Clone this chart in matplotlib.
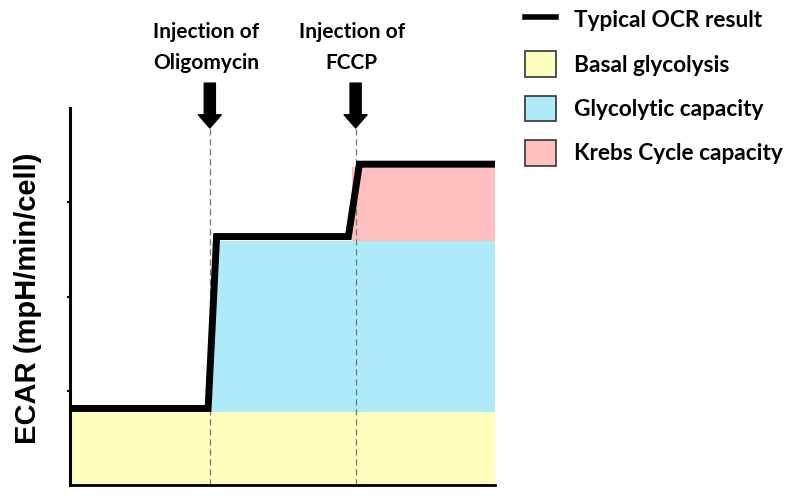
"""Glycolysis stress test schematic: ECAR trace with shaded capacity regions."""

import matplotlib

matplotlib.use("Agg")
import matplotlib.pyplot as plt
from matplotlib.lines import Line2D
from matplotlib.patches import Patch

# typical trace (arbitrary time / ECAR units)
time = [0.0, 3.25, 3.45, 6.55, 6.81, 10.0]
ecar = [2.03, 2.03, 6.59, 6.59, 8.51, 8.51]

# shaded regions: (label, x start, bottom, top, colour)
region_labels = ["Basal glycolysis", "Glycolytic capacity", "Krebs Cycle capacity"]
region_start = [0.0, 3.33, 6.63]
region_bottom = [0.0, 1.94, 6.48]
region_top = [1.94, 6.48, 8.44]
region_colors = ["#FFFFC0", "#AEEAFA", "#FFBFBF"]

injection_x = [3.29, 6.72]
injection_label_x = [3.2, 6.63]
injection_labels = ["Injection of\nOligomycin", "Injection of\nFCCP"]

X_MAX, Y_MAX = 10.0, 10.0
ARROW_TIP, ARROW_TOP = 9.47, 10.66

fig = plt.figure(figsize=(7.95, 4.97), dpi=100)
ax = fig.add_axes([70 / 795, 12 / 497, 425 / 795, 377 / 497])

for x0, lo, hi, col in zip(region_start, region_bottom, region_top, region_colors):
    ax.fill_between([x0, X_MAX], lo, hi, color=col, lw=0, zorder=1)

for x in injection_x:
    ax.plot([x, x], [0, ARROW_TIP], color="#777777", lw=0.9, dashes=(5, 3), zorder=2)
    ax.annotate("", xy=(x, ARROW_TIP), xytext=(x, ARROW_TOP),
                arrowprops=dict(facecolor="black", edgecolor="black", width=8,
                                headwidth=16.5, headlength=9.5, shrink=0),
                annotation_clip=False)

for x, txt in zip(injection_label_x, injection_labels):
    ax.text(x, 11.6, txt, ha="center", va="center", fontsize=15, fontweight="bold",
            family="Lato", linespacing=1.7, clip_on=False)

ax.plot(time, ecar, color="black", lw=5, solid_joinstyle="miter", zorder=3)

ax.set_xlim(0, X_MAX)
ax.set_ylim(0, Y_MAX)
ax.set_xticks([])
ax.set_yticks([2.5, 5, 7.5])
ax.set_yticklabels([])
ax.tick_params(axis="y", length=2.5, width=1.5)
for side in ("top", "right"):
    ax.spines[side].set_visible(False)
ax.spines["left"].set_linewidth(2.2)
ax.spines["bottom"].set_linewidth(2.0)

ax.set_ylabel("ECAR (mpH/min/cell)", fontsize=21, fontweight="bold", family="Liberation Sans")
ax.yaxis.set_label_coords(-0.066, 0.496)

handles = [Line2D([], [], color="black", lw=4)]
handles += [Patch(facecolor=c, edgecolor="#333333", lw=1.2) for c in region_colors]
fig.legend(handles, ["Typical OCR result"] + region_labels, loc="upper left",
           bbox_to_anchor=(525 / 795, 1 - 7 / 497), frameon=False,
           prop=dict(family="Lato", weight="bold", size=16.3),
           handlelength=1.35, handleheight=1.36, handletextpad=0.8, labelspacing=0.83,
           borderaxespad=0, borderpad=0)

fig.savefig("out.png", dpi=100)
